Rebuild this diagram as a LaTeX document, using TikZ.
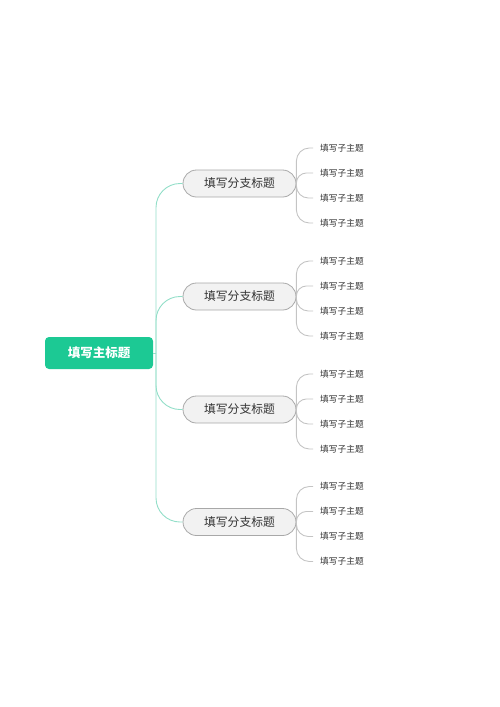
\documentclass[tikz,border=0pt]{standalone}
\usepackage{fontspec}
\setmainfont{Noto Sans CJK SC}
\definecolor{maingreen}{HTML}{1CC994}
\definecolor{linegreen}{HTML}{92DEC8}
\definecolor{branchfill}{HTML}{F2F2F2}
\definecolor{branchdraw}{HTML}{A8A8A8}
\definecolor{childline}{HTML}{C4C4C4}
\definecolor{txt}{HTML}{333333}
\begin{document}
\begin{tikzpicture}[x=1pt,y=-1pt,
  mainbox/.style={fill=maingreen, rounded corners=4pt, minimum width=108pt, minimum height=32pt, text=white, font=\fontsize{12.5}{14}\selectfont\bfseries, inner sep=0pt},
  branchbox/.style={fill=branchfill, draw=branchdraw, line width=0.8pt, rounded corners=13.5pt, minimum width=113pt, minimum height=27pt, inner sep=0pt, text=txt, font=\fontsize{11.8}{14}\selectfont},
  childtext/.style={anchor=west, inner sep=0pt, text=txt, font=\fontsize{8.7}{10}\selectfont},
  gline/.style={draw=linegreen, line width=0.9pt},
  cline/.style={draw=childline, line width=0.9pt}]
\useasboundingbox (0,0) rectangle (500,707);
\node[mainbox] (m) at (99,353) {填写主标题};
\coordinate (j) at (156,353);
\draw[gline] (m.east) -- (j);
\foreach \i/\y in {1/183.5,2/296.5,3/409.5,4/522}{
  \node[branchbox] (b\i) at (239.5,\y) {填写分支标题};
  \draw[gline, rounded corners=24pt] (j) |- (b\i.west);
  \foreach \k/\d/\r in {1/-35.5/13,2/-10.5/10,3/14.5/12,4/39.5/13}{
    \node[childtext] (c\i\k) at (320,\y+\d) {填写子主题};
    \draw[cline, rounded corners=\r pt] (b\i.east) |- ([xshift=-7pt]c\i\k.west);
  }
}
\end{tikzpicture}
\end{document}
